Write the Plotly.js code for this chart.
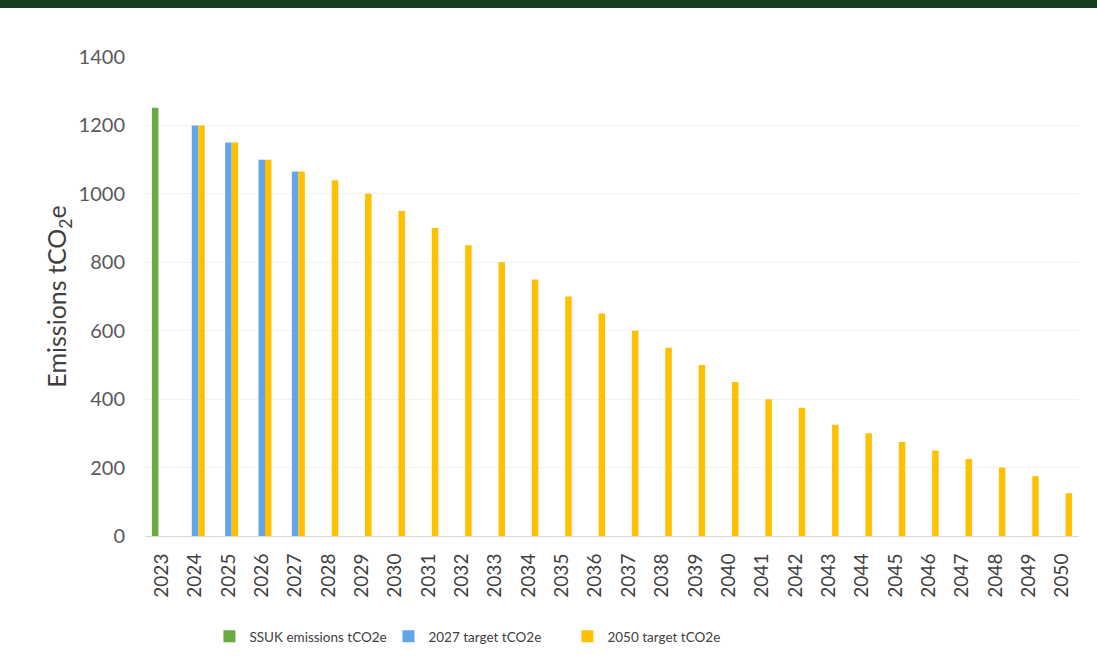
<!DOCTYPE html>
<html>
<head>
<meta charset="utf-8">
<script src="https://cdn.plot.ly/plotly-3.0.1.min.js"></script>
<style>
  html, body { margin: 0; padding: 0; background: #fff; }
  #chart { width: 1097px; height: 669px; }
</style>
</head>
<body>
<div id="chart"></div>
<script>
const years = ['2023','2024','2025','2026','2027','2028','2029','2030','2031','2032','2033','2034','2035','2036','2037','2038','2039','2040','2041','2042','2043','2044','2045','2046','2047','2048','2049','2050'];
const ssukEmissions = [1252, null, null, null, null, null, null, null, null, null, null, null, null, null, null, null, null, null, null, null, null, null, null, null, null, null, null, null];
const target2027 = [null, 1200, 1150, 1100, 1065, null, null, null, null, null, null, null, null, null, null, null, null, null, null, null, null, null, null, null, null, null, null, null];
const target2050 = [null, 1200, 1150, 1100, 1065, 1040, 1000, 950, 900, 850, 800, 750, 700, 650, 600, 550, 500, 450, 400, 375, 325, 300, 275, 250, 225, 200, 175, 125];
const seriesNames = ['SSUK emissions tCO2e', '2027 target tCO2e', '2050 target tCO2e'];
const yTicks = [0, 200, 400, 600, 800, 1000, 1200, 1400];

const FONT = 'Lato, "Open Sans", sans-serif';
const colors = ['#6aab3f', '#62a5eb', '#ffc000'];

const traces = [ssukEmissions, target2027, target2050].map((vals, i) => ({
  type: 'bar',
  x: years,
  y: vals,
  name: seriesNames[i],
  marker: { color: colors[i], line: { width: 0 } },
  hoverinfo: 'x+y+name'
}));

const layout = {
  width: 1097,
  height: 669,
  margin: { l: 145, r: 18, t: 57, b: 133 },
  paper_bgcolor: '#ffffff',
  plot_bgcolor: '#ffffff',
  barmode: 'group',
  bargap: 0.415,
  bargroupgap: 0,
  font: { family: FONT, color: '#595959', size: 17 },
  xaxis: {
    type: 'category',
    tickangle: -90,
    showgrid: false,
    showline: true,
    linecolor: '#d9d9d9',
    linewidth: 1,
    ticks: '',
    ticklabelstandoff: 9,
    tickfont: { family: FONT, size: 19, color: '#404040' },
    zeroline: false
  },
  yaxis: {
    range: [0, 1400],
    tickvals: yTicks,
    ticktext: yTicks.map(String),
    showgrid: true,
    gridcolor: '#f2f2f2',
    gridwidth: 1,
    zeroline: false,
    showline: false,
    ticks: '',
    ticklabelstandoff: 19,
    tickfont: { family: FONT, size: 20, color: '#595959' },
    title: { text: 'Emissions tCO<sub>2</sub>e', font: { family: FONT, size: 25, color: '#404040' }, standoff: 4 }
  },
  showlegend: true,
  legend: {
    orientation: 'h',
    x: 0.069,
    xanchor: 'left',
    y: -0.21,
    yanchor: 'middle',
    font: { family: FONT, size: 13.5, color: '#404040' },
    itemwidth: 30,
    entrywidth: 134,
    entrywidthmode: 'pixels',
    traceorder: 'normal',
    bgcolor: 'rgba(0,0,0,0)'
  },
  shapes: [
    { type: 'rect', xref: 'paper', yref: 'paper', x0: -0.16, x1: 1.03, y0: 1 + 49/479, y1: 1 + 57/479, fillcolor: '#173f1f', line: { width: 0 }, layer: 'above' }
  ]
};

Plotly.newPlot('chart', traces, layout, { displayModeBar: false, staticPlot: true });
</script>
</body>
</html>
